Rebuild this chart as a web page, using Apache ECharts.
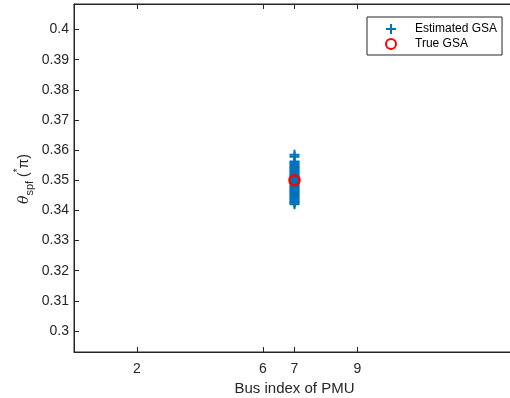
<!DOCTYPE html>
<html>
<head>
<meta charset="utf-8">
<script src="https://cdn.jsdelivr.net/npm/echarts@6/dist/echarts.min.js"></script>
<style>html,body{margin:0;padding:0;background:#fff}#c{width:510px;height:398px}</style>
</head>
<body>
<div id="c"></div>
<script>
const xTicks = [2, 6, 7, 9];
const yTicks = [0.3, 0.31, 0.32, 0.33, 0.34, 0.35, 0.36, 0.37, 0.38, 0.39, 0.4];
const estBus = 7;
const estimatedGSA = [0.3585, 0.3578, 0.3562, 0.3558, 0.3553, 0.3549, 0.3544, 0.3540, 0.3536, 0.3531,
  0.3527, 0.3522, 0.3518, 0.3513, 0.3509, 0.3504, 0.3500, 0.3496, 0.3491, 0.3487, 0.3482, 0.3478,
  0.3473, 0.3469, 0.3464, 0.3460, 0.3455, 0.3451, 0.3446, 0.3442, 0.3437, 0.3433, 0.3428, 0.3425, 0.3420];
const trueBus = [7];
const trueGSA = [0.35];
const xName = 'Bus index of PMU';
const yName = '{t|θ}{s|spf} {n|(}{sup|*}{n|π)}';

const font = 'Liberation Sans';
const txt = '#262626';
const plus = 'path://M4,0H6V4H10V6H6V10H4V6H0V4H4Z';

const chart = echarts.init(document.getElementById('c'));
chart.setOption({
  animation: false,
  textStyle: {fontFamily: font},
  grid: {left: 74, top: 4, right: -5, bottom: 46, outerBoundsMode: 'none', containLabel: false,
    show: true, borderColor: txt, borderWidth: 1, backgroundColor: 'transparent'},
  graphic: [{
    type: 'text', x: 24, y: 179, rotation: Math.PI / 2,
    style: {
      text: yName, align: 'center', verticalAlign: 'middle', fill: txt, fontSize: 14, fontFamily: font,
      rich: {
        t: {fontSize: 14, fontStyle: 'italic', fill: txt, fontFamily: 'DejaVu Serif', lineHeight: 22, verticalAlign: 'middle'},
        s: {fontSize: 11, fill: txt, fontFamily: font, verticalAlign: 'bottom', lineHeight: 22},
        n: {fontSize: 14, fill: txt, fontFamily: font, verticalAlign: 'middle', lineHeight: 22},
        sup: {fontSize: 10, fill: txt, fontFamily: font, verticalAlign: 'top', lineHeight: 22}
      }
    }
  }],
  legend: {
    orient: 'vertical', left: 367, top: 17,
    borderColor: txt, borderWidth: 1, padding: [6, 5, 5, 18],
    itemWidth: 38, itemHeight: 10, itemGap: 3,
    textStyle: {fontSize: 12, color: '#000', fontFamily: font},
    data: ['Estimated GSA', 'True GSA']
  },
  xAxis: [{
    type: 'value', min: 0, max: 14,
    name: xName, nameLocation: 'middle', nameGap: 27,
    nameTextStyle: {fontSize: 15, color: txt},
    axisLine: {show: true, lineStyle: {color: txt}},
    axisTick: {show: true, inside: true, length: 5, customValues: xTicks, lineStyle: {color: txt}},
    axisLabel: {customValues: xTicks, fontSize: 14, color: txt, margin: 10},
    splitLine: {show: false}
  }, {
    type: 'value', min: 0, max: 14, position: 'top',
    axisLine: {show: true, lineStyle: {color: txt}},
    axisTick: {show: true, inside: true, length: 5, customValues: xTicks, lineStyle: {color: txt}},
    axisLabel: {show: false},
    splitLine: {show: false}
  }],
  yAxis: {
    type: 'value', min: 0.293, max: 0.4085,
    axisLine: {show: true, lineStyle: {color: txt}},
    axisTick: {show: true, inside: true, length: 5, customValues: yTicks, lineStyle: {color: txt}},
    axisLabel: {customValues: yTicks, fontSize: 14, color: txt, margin: 5},
    splitLine: {show: false}
  },
  series: [{
    name: 'Estimated GSA', type: 'scatter',
    symbol: plus, symbolSize: 10,
    itemStyle: {color: '#0072BD', opacity: 1},
    data: estimatedGSA.map(v => [estBus, v])
  }, {
    name: 'True GSA', type: 'scatter',
    symbol: 'circle', symbolSize: 10,
    itemStyle: {color: 'transparent', borderColor: '#FF0000', borderWidth: 2.5, opacity: 1},
    data: trueGSA.map((v, i) => [trueBus[i], v])
  }]
});
</script>
</body>
</html>
